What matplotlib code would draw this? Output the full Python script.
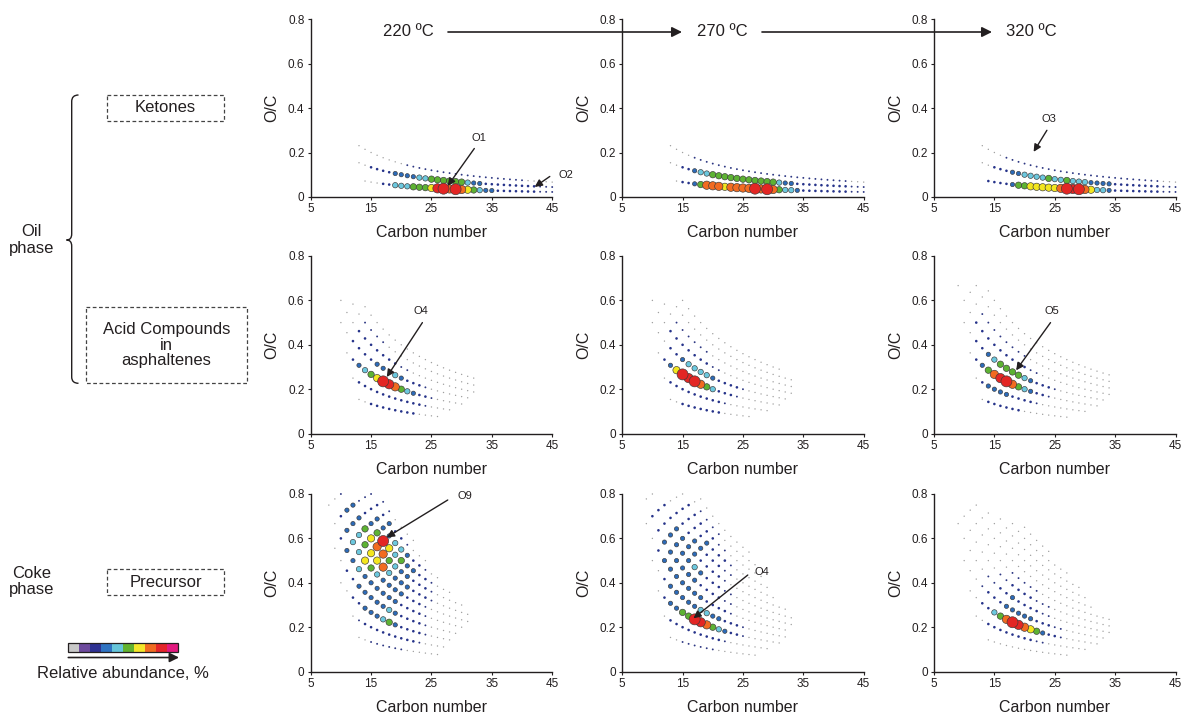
import matplotlib.pyplot as plt
import numpy as np
from matplotlib.path import Path
import matplotlib.patches as mpatches

plt.rcParams['font.family'] = ['Liberation Sans', 'DejaVu Sans']

W, H = 1182, 719

# colour bar, low -> high abundance
bar_colors = ['#c8c8c8', '#6d4a9d', '#2e3192', '#2f73c2', '#66c5da',
              '#62b22f', '#f4e62a', '#f06b22', '#e4252a', '#e2197f']
# dot colour / diameter (px) per abundance level; 9 = the biggest red dots
dot_colors = ['#a0a0a0', '#2e3883', '#26338a', '#2c6bb9', '#6cc8de',
              '#5db233', '#f3e61f', '#f26b21', '#e32624', '#e32624']
dot_diam = [1.4, 1.9, 2.6, 4.3, 5.4, 6.4, 7.3, 8.3, 9.3, 11.0]

temps = ['220 ºC', '270 ºC', '320 ºC']
x_ticks = [5, 15, 25, 35, 45]
y_ticks = [0, 0.2, 0.4, 0.6, 0.8]
y_tick_labels = ['0', '0.2', '0.4', '0.6', '0.8']

# (number of O atoms, first carbon number, abundance level per carbon number)
ketones_220 = [
    (3, 13, "00000000" "11111111111111111111" "00000"),
    (2, 13, "00" "2222" "3333" "44" "555555" "4" "33" "222222222" "111"),
    (1, 14, "000" "22" "444" "555" "689797654" "33" "2222222" "111"),
]
ketones_270 = [
    (3, 13, "0000" "11111111111111111111111111" "000"),
    (2, 13, "00" "22" "3" "44" "55555555555" "4" "33" "222222222" "111"),
    (1, 14, "0" "22" "3" "5" "777" "6" "7777" "9797" "5" "44" "3" "22222222" "111"),
]
ketones_320 = [
    (3, 13, "0000" "11111111111111111111111111" "000"),
    (2, 13, "00" "222" "33" "4444" "5" "44" "5" "444" "3333" "22222222" "111"),
    (1, 14, "2222" "3" "55" "66666" "7" "989" "7" "6" "44" "3" "22222222" "111"),
]

acids_220 = [
    (2, 13, "00" "22222222" "0000"),
    (3, 12, "0" "22222222222" "1" "0000"),
    (4, 11, "0" "2" "3" "4" "5" "6" "9" "8" "7" "5" "4" "3" "22" "1" "00000"),
    (5, 10, "00" "2222" "33" "2" "4" "3" "222" "1" "0000000"),
    (6, 10, "000" "2222222" "11" "00000000000"),
    (7, 12, "00" "1111" "000000000000000"),
    (8, 14, "0000000000000000000"),
]
acids_270 = [
    (2, 13, "00" "2222222" "00000"),
    (3, 12, "0" "222222222" "1" "0000000"),
    (4, 11, "0" "2" "3" "6" "9" "8" "9" "7" "5" "4" "222" "1" "0000000"),
    (5, 10, "000" "22" "3" "4444" "3" "2222" "1" "0000000"),
    (6, 10, "000" "2222222" "11" "000000000000"),
    (7, 12, "00" "111111" "00000000000000"),
    (8, 14, "00000000000000000000"),
    (9, 15, "00000000000000000"),
]
acids_320 = [
    (2, 13, "0" "222222" "00000000"),
    (3, 12, "0" "2" "3333" "2222" "1" "00000000"),
    (4, 11, "0" "2" "3" "5" "7" "8" "9" "7" "5" "4" "3" "22" "1" "00000000"),
    (5, 10, "00" "22" "3" "4" "5555" "4" "3" "222" "1" "00000000"),
    (6, 9, "000" "222222222" "11" "000000000000"),
    (7, 11, "00" "11111111" "00000000000000"),
    (8, 12, "00000000000000000000000"),
    (9, 14, "000000000000000000000"),
]

coke_220 = [
    (2, 13, "00" "111111" "000000"),
    (3, 12, "01" "222222222" "1" "0000"),
    (4, 10, "00" "22" "333" "4" "5" "3" "2222" "1" "0000"),
    (5, 9, "00" "22" "33333" "4" "3" "2222" "1" "00000"),
    (6, 8, "00" "2" "33" "4" "333333" "2222" "1" "000000"),
    (7, 9, "0" "2" "3" "44" "6" "5" "4" "3333" "222" "1" "0000000"),
    (8, 10, "1" "33" "4" "5" "66" "7" "4" "333" "222" "1" "000000"),
    (9, 12, "33" "5" "6" "77" "5" "4" "33" "222" "1" "00000"),
    (10, 13, "12" "3" "5" "9" "6" "4" "5" "33" "22" "1" "000"),
    (11, 14, "12" "333" "44" "3" "22" "1" "00"),
    (12, 15, "1223221000"),
    (13, 17, "110000"),
]
coke_270 = [
    (2, 13, "00" "111111" "0000000"),
    (3, 12, "0" "222222222" "1" "0000000"),
    (4, 11, "0" "2" "33" "55" "9" "8" "7" "5" "4" "3" "22" "1" "000000"),
    (5, 10, "00" "2" "33333" "44" "33" "222" "1" "0000000"),
    (6, 9, "00" "2" "3333333" "2222" "1" "000000000"),
    (7, 9, "0" "22" "333333" "2222" "11" "0000000000"),
    (8, 10, "0" "22" "3333" "4" "3" "222" "11" "0000000000"),
    (9, 12, "22" "3333" "2222" "1" "0000000000"),
    (10, 13, "0" "222" "33" "222" "11" "0000000"),
    (11, 14, "0" "2222" "3" "222" "1" "000000"),
    (12, 15, "0" "22222" "11" "000000"),
    (13, 17, "0" "1111" "000000"),
    (14, 18, "000000000"),
]
coke_320 = [
    (2, 14, "00000000000000"),
    (3, 12, "00" "22222222" "11" "0000000"),
    (4, 11, "00" "22" "4" "5" "7" "9" "8" "7" "6" "5" "3" "22" "1" "000000"),
    (5, 10, "000" "1" "222" "33333" "222" "11" "0000000"),
    (6, 9, "00000" "11" "22" "3" "2222" "11" "0000000000"),
    (7, 10, "000000" "11" "2222" "111" "0000000000"),
    (8, 11, "0000000" "11111" "000000000000"),
    (9, 12, "00000000000000000000"),
    (10, 14, "00000000000000000"),
    (11, 16, "00000000000000"),
    (12, 18, "0000000000"),
    (13, 20, "00000"),
]

panels = [[ketones_220, ketones_270, ketones_320],
          [acids_220, acids_270, acids_320],
          [coke_220, coke_270, coke_320]]

ink = '#231f20'
fig = plt.figure(figsize=(W / 100, H / 100), dpi=100)

ax_left = [310.7, 622.2, 934.0]
ax_top = [19.3, 256.0, 494.0]
ax_w, ax_h = 241.5, 177.6


def draw_panel(ax, series):
    cn, oc, lv = [], [], []
    for n_o, c0, levels in series:
        for i, ch in enumerate(levels):
            cn.append(c0 + i)
            oc.append(n_o / (c0 + i))
            lv.append(int(ch))
    cn, oc, lv = np.array(cn), np.array(oc), np.array(lv)
    order = np.argsort(lv, kind='stable')
    cn, oc, lv = cn[order], oc[order], lv[order]
    sizes = [(dot_diam[k] * 0.72) ** 2 for k in lv]
    cols = [dot_colors[k] for k in lv]
    edges = ['#3a3a3a' if k >= 3 else 'none' for k in lv]
    lws = [0.45 if k >= 3 else 0 for k in lv]
    ax.scatter(cn, oc, s=sizes, c=cols, edgecolors=edges, linewidths=lws,
               clip_on=False, zorder=3)

    ax.set_xlim(5, 45)
    ax.set_ylim(0, 0.8)
    for side in ['top', 'right']:
        ax.spines[side].set_visible(False)
    for side in ['left', 'bottom']:
        ax.spines[side].set_linewidth(1.0)
        ax.spines[side].set_color(ink)
    ax.set_xticks(x_ticks)
    ax.set_yticks(y_ticks)
    ax.set_yticklabels(y_tick_labels)
    ax.tick_params(direction='out', length=2.5, width=0.8, pad=2,
                   labelsize=8.5, colors=ink)
    ax.set_xlabel('Carbon number', fontsize=11.5, color=ink, labelpad=7)
    ax.set_ylabel('O/C', fontsize=11.5, color=ink, labelpad=6)
    ax.patch.set_alpha(0)


axes = [[None] * 3 for _ in range(3)]
for r in range(3):
    for c in range(3):
        ax = fig.add_axes([ax_left[c] / W, 1 - (ax_top[r] + ax_h) / H,
                           ax_w / W, ax_h / H])
        draw_panel(ax, panels[r][c])
        axes[r][c] = ax

# class labels with arrows (text, tail, tip) in data coordinates
notes = [
    (0, 0, 'O1', (32.8, 0.265), (32.1, 0.218), (27.7, 0.05)),
    (0, 0, 'O2', (47.2, 0.098), (44.6, 0.092), (42.1, 0.045)),
    (0, 2, 'O3', (24.0, 0.35), (23.7, 0.30), (21.5, 0.203)),
    (1, 0, 'O4', (23.2, 0.55), (23.5, 0.50), (17.6, 0.255)),
    (1, 2, 'O5', (24.6, 0.55), (24.3, 0.50), (18.6, 0.285)),
    (2, 0, 'O9', (30.5, 0.79), (27.7, 0.773), (17.6, 0.605)),
    (2, 1, 'O4', (28.1, 0.45), (25.8, 0.435), (16.8, 0.24)),
]
for r, c, lab, txt, tail, tip in notes:
    ax = axes[r][c]
    ax.text(txt[0], txt[1], lab, fontsize=8, color=ink, ha='center',
            va='center', clip_on=False, zorder=6)
    ax.annotate('', xy=tip, xytext=tail, annotation_clip=False, zorder=6,
                arrowprops=dict(arrowstyle='-|>', color=ink, lw=1.0,
                                mutation_scale=11, shrinkA=0, shrinkB=0))

# overlay in pixel coordinates for the side labels and temperature arrows
ov = fig.add_axes([0, 0, 1, 1])
ov.set_xlim(0, W)
ov.set_ylim(H, 0)
ov.axis('off')
ov.set_zorder(10)

temp_x = [408, 722, 1031]
for t, x in zip(temps, temp_x):
    ov.text(x, 32, t, fontsize=12, color=ink, ha='center', va='center')
for x0, x1 in [(448, 682), (762, 992)]:
    ov.annotate('', xy=(x1, 32), xytext=(x0, 32),
                arrowprops=dict(arrowstyle='-|>', color=ink, lw=1.2,
                                mutation_scale=15, shrinkA=0, shrinkB=0))

boxes = [('Ketones', 107.3, 95, 224, 120.7),
         ('Acid Compounds\nin\nasphaltenes', 86, 306.7, 246.7, 383.3),
         ('Precursor', 107.3, 569.3, 224, 595)]
for lab, x0, y0, x1, y1 in boxes:
    ov.add_patch(mpatches.Rectangle((x0, y0), x1 - x0, y1 - y0, fill=False,
                                    ec='#444444', lw=0.9, ls=(0, (3, 2))))
    ov.text((x0 + x1) / 2, (y0 + y1) / 2, lab, fontsize=12, color=ink,
            ha='center', va='center', linespacing=1.05)

ov.text(31.7, 240, 'Oil\nphase', fontsize=12, color=ink, ha='center',
        va='center', linespacing=1.1)
ov.text(31.7, 581.7, 'Coke\nphase', fontsize=12, color=ink, ha='center',
        va='center', linespacing=1.1)

# curly brace for the oil phase
verts = [(78.5, 95), (71.7, 95), (71.7, 101.5), (71.7, 234), (71.7, 240),
         (66.5, 240), (71.7, 240), (71.7, 246), (71.7, 377), (71.7, 383.3),
         (78.5, 383.3)]
codes = [Path.MOVETO, Path.CURVE3, Path.CURVE3, Path.LINETO, Path.CURVE3,
         Path.CURVE3, Path.CURVE3, Path.CURVE3, Path.LINETO, Path.CURVE3,
         Path.CURVE3]
ov.add_patch(mpatches.PathPatch(Path(verts, codes), fill=False, ec=ink, lw=1.0))

# colour scale
seg = (178.3 - 68.3) / len(bar_colors)
for i, col in enumerate(bar_colors):
    ov.add_patch(mpatches.Rectangle((68.3 + i * seg, 643.3), seg, 8.4,
                                    fc=col, ec='none'))
ov.add_patch(mpatches.Rectangle((68.3, 643.3), 110, 8.4, fill=False,
                                ec=ink, lw=0.9))
ov.annotate('', xy=(179, 657.5), xytext=(68.3, 657.5),
            arrowprops=dict(arrowstyle='-|>', color=ink, lw=1.2,
                            mutation_scale=14, shrinkA=0, shrinkB=0))
ov.text(123.3, 673.3, 'Relative abundance, %', fontsize=12, color=ink,
        ha='center', va='center')

fig.savefig('out.png', dpi=100)
